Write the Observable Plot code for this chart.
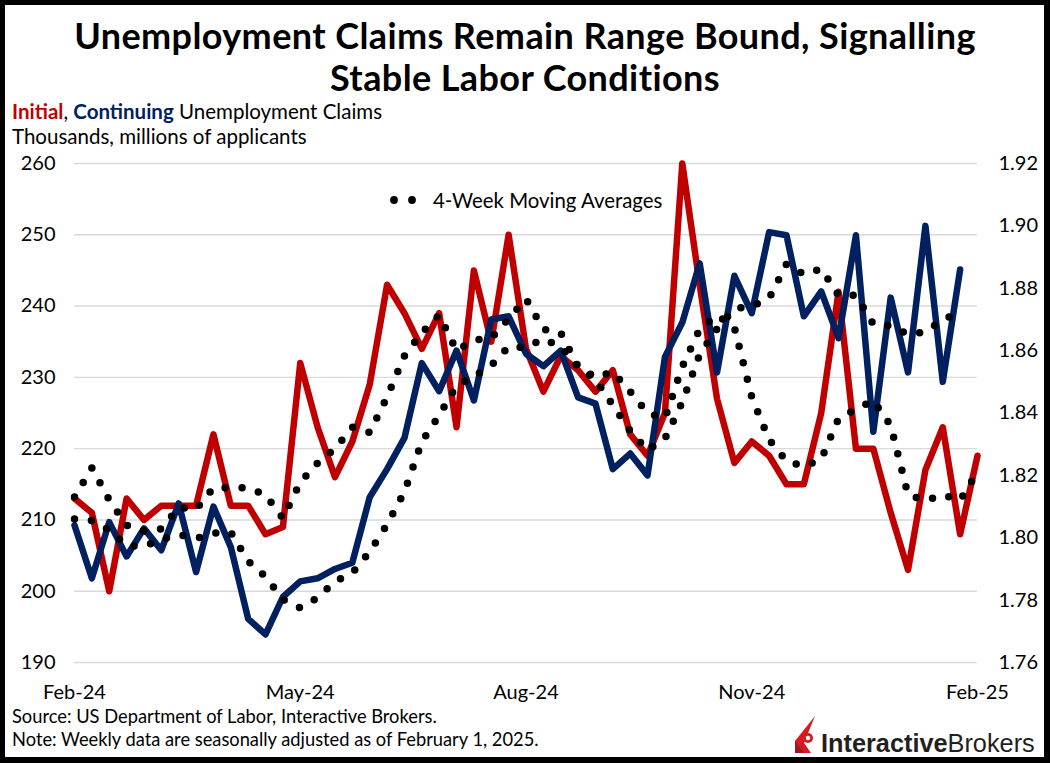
<!DOCTYPE html>
<html>
<head>
<meta charset="utf-8">
<script src="https://cdn.jsdelivr.net/npm/d3@7"></script>
<script src="https://cdn.jsdelivr.net/npm/@observablehq/plot@0.6"></script>
<style>
html,body{margin:0;padding:0;background:#fff;}
#wrap{position:relative;width:1050px;height:763px;overflow:hidden;font-family:Lato,"Open Sans",sans-serif;color:#000;background:#fff;}
#frame{position:absolute;left:0;top:0;width:1050px;height:763px;box-sizing:border-box;border:5px solid #000;border-right-width:6px;border-bottom-width:6px;pointer-events:none;z-index:10;}
#chart{position:absolute;left:0;top:150px;z-index:1;}
.title{position:absolute;left:0;width:1050px;text-align:center;font-weight:700;font-size:36px;line-height:43px;letter-spacing:0.4px;z-index:2;white-space:nowrap;}
#sub{position:absolute;left:12px;top:99px;font-size:20.5px;line-height:25px;z-index:2;}
#legend{position:absolute;left:386px;top:187px;height:25px;z-index:2;display:flex;align-items:center;font-size:20.4px;}
#foot{position:absolute;left:12px;top:705px;font-size:18.3px;line-height:23px;z-index:2;}
#logo{position:absolute;left:821px;top:731px;font-family:"Liberation Sans",Arial,sans-serif;font-size:25.3px;line-height:25px;color:#231f20;z-index:2;white-space:nowrap;}
#icon{position:absolute;left:795px;top:716px;z-index:2;}
</style>
</head>
<body>
<div id="wrap">
  <div class="title" style="top:14px">Unemployment Claims Remain Range Bound, Signalling</div>
  <div class="title" style="top:56px">Stable Labor Conditions</div>
  <div id="sub"><span style="color:#C00000;font-weight:700">Initial</span>, <span style="color:#002060;font-weight:700">Continuing</span> Unemployment Claims<br>Thousands, millions of applicants</div>
  <div id="legend"><svg width="42" height="16"><circle cx="8" cy="8" r="3.9" fill="#000"/><circle cx="26" cy="8" r="3.9" fill="#000"/></svg><span style="margin-left:5px">4-Week Moving Averages</span></div>
  <div id="chart"></div>
  <div id="foot">Source: US Department of Labor, Interactive Brokers.<br>Note: Weekly data are seasonally adjusted as of February 1, 2025.</div>
  <svg id="icon" width="22" height="38" viewBox="0 0 22 38">
    <polygon points="20,0 0,25 0,37 16,37 9,27" fill="#d71920"/>
    <polygon points="0,25 0,37 9,37" fill="#a3161b"/>
    <circle cx="13" cy="22" r="5" fill="#d71920"/>
    <circle cx="13" cy="22" r="2.2" fill="#fff"/>
  </svg>
  <div id="logo"><span style="font-weight:700">Interactive</span>Brokers</div>
  <div id="frame"></div>
</div>
<script>
// Weekly dates (week ending, Saturday)
const weeks = [
  "2024-02-03","2024-02-10","2024-02-17","2024-02-24","2024-03-02","2024-03-09","2024-03-16","2024-03-23","2024-03-30",
  "2024-04-06","2024-04-13","2024-04-20","2024-04-27","2024-05-04","2024-05-11","2024-05-18","2024-05-25",
  "2024-06-01","2024-06-08","2024-06-15","2024-06-22","2024-06-29","2024-07-06","2024-07-13","2024-07-20","2024-07-27",
  "2024-08-03","2024-08-10","2024-08-17","2024-08-24","2024-08-31","2024-09-07","2024-09-14","2024-09-21","2024-09-28",
  "2024-10-05","2024-10-12","2024-10-19","2024-10-26","2024-11-02","2024-11-09","2024-11-16","2024-11-23","2024-11-30",
  "2024-12-07","2024-12-14","2024-12-21","2024-12-28","2025-01-04","2025-01-11","2025-01-18","2025-01-25","2025-02-01"
];
// Initial claims, thousands (left axis)
const initialClaims = [213,211,200,213,210,212,212,212,222,212,212,208,209,232,223,216,221,229,243,239,234,239,223,245,235,250,234,228,233,231,228,231,222,219,225,260,243,227,218,221,219,215,215,225,242,220,220,211,203,217,223,208,219];
// Initial claims, 4-week moving average
const initialMA = [213.2,217.3,212.8,209.25,208.5,208.75,211.75,211.5,214.5,214.5,214.5,213.5,210.25,215.25,218,220,223,222.25,227.25,233,236.25,238.75,233.75,235.25,235.5,238.25,241,236.75,236.25,231.5,230,230.75,228,225,224.25,231.5,236.75,238.75,237,227.25,221.25,218.25,217.5,218.5,224.25,225.5,226.75,223.25,213.5,212.75,213.5,212.75,216.75];
// Continuing claims, millions (right axis)
const continuingClaims = [1.804,1.787,1.805,1.794,1.803,1.796,1.811,1.789,1.810,1.797,1.774,1.769,1.781,1.786,1.787,1.790,1.792,1.813,1.822,1.832,1.856,1.847,1.860,1.844,1.870,1.871,1.859,1.855,1.860,1.845,1.843,1.822,1.827,1.820,1.858,1.869,1.888,1.853,1.884,1.872,1.898,1.897,1.871,1.879,1.864,1.897,1.834,1.877,1.853,1.900,1.850,1.886];
// Continuing claims, 4-week moving average
const continuingMA = [1.806,1.8055,1.8025,1.7975,1.79725,1.7995,1.801,1.79975,1.8015,1.80175,1.7925,1.7875,1.78025,1.7775,1.78075,1.786,1.78875,1.7955,1.80425,1.81475,1.83075,1.83925,1.84875,1.85175,1.85525,1.86125,1.861,1.86375,1.86125,1.85475,1.85075,1.8425,1.83425,1.828,1.83175,1.8435,1.85875,1.867,1.8735,1.87425,1.87675,1.88775,1.8845,1.88625,1.87775,1.87775,1.8685,1.868,1.86525,1.866,1.87,1.87225];

const leftTicks = [190,200,210,220,230,240,250,260];
const rightTicks = [1.76,1.78,1.80,1.82,1.84,1.86,1.88,1.90,1.92];
const xTickWeeks = ["2024-02-03","2024-05-04","2024-08-03","2024-11-02","2025-02-01"];

const parse = d3.utcParse("%Y-%m-%d");
const L0 = 190, L1 = 260, R0 = 1.76, R1 = 1.92;
const toLeft = v => L0 + (v - R0) / (R1 - R0) * (L1 - L0);
const fromLeft = y => R0 + (y - L0) / (L1 - L0) * (R1 - R0);

const redRows = weeks.map((w, i) => ({date: parse(w), v: initialClaims[i], ma: initialMA[i]}));
const blueRows = continuingClaims.map((v, i) => ({date: parse(weeks[i]), v: toLeft(v), ma: toLeft(continuingMA[i])}));

const chart = Plot.plot({
  width: 1050,
  height: 555,
  marginTop: 13,
  marginBottom: 43,
  marginLeft: 74,
  marginRight: 73,
  style: {background: "transparent", fontFamily: "Lato, sans-serif", fontSize: "20px", color: "#000", overflow: "visible"},
  x: {type: "utc", domain: [parse(weeks[0]), parse(weeks[weeks.length - 1])]},
  y: {domain: [L0, L1]},
  marks: [
    Plot.gridY(leftTicks, {stroke: "#d9d9d9", strokeOpacity: 1, strokeWidth: 1.4}),
    Plot.axisY({ticks: leftTicks, tickSize: 0, tickPadding: 19, label: null}),
    Plot.axisY({ticks: rightTicks.map(toLeft), anchor: "right", tickSize: 0, tickPadding: 21, tickFormat: d => fromLeft(d).toFixed(2), label: null}),
    Plot.axisX({ticks: xTickWeeks.map(parse), tickSize: 0, tickPadding: 22, tickFormat: d3.utcFormat("%b-%y"), label: null}),
    Plot.line(redRows, {x: "date", y: "v", stroke: "#C00000", strokeWidth: 6.5, strokeLinejoin: "round"}),
    Plot.line(blueRows, {x: "date", y: "v", stroke: "#002060", strokeWidth: 6.5, strokeLinejoin: "round"}),
    Plot.line(redRows, {x: "date", y: "ma", stroke: "#000", strokeWidth: 7.5, strokeDasharray: "0,17", strokeLinecap: "round"}),
    Plot.line(blueRows, {x: "date", y: "ma", stroke: "#000", strokeWidth: 7.5, strokeDasharray: "0,17", strokeLinecap: "round"})
  ]
});
document.getElementById("chart").appendChild(chart);
</script>
</body>
</html>
